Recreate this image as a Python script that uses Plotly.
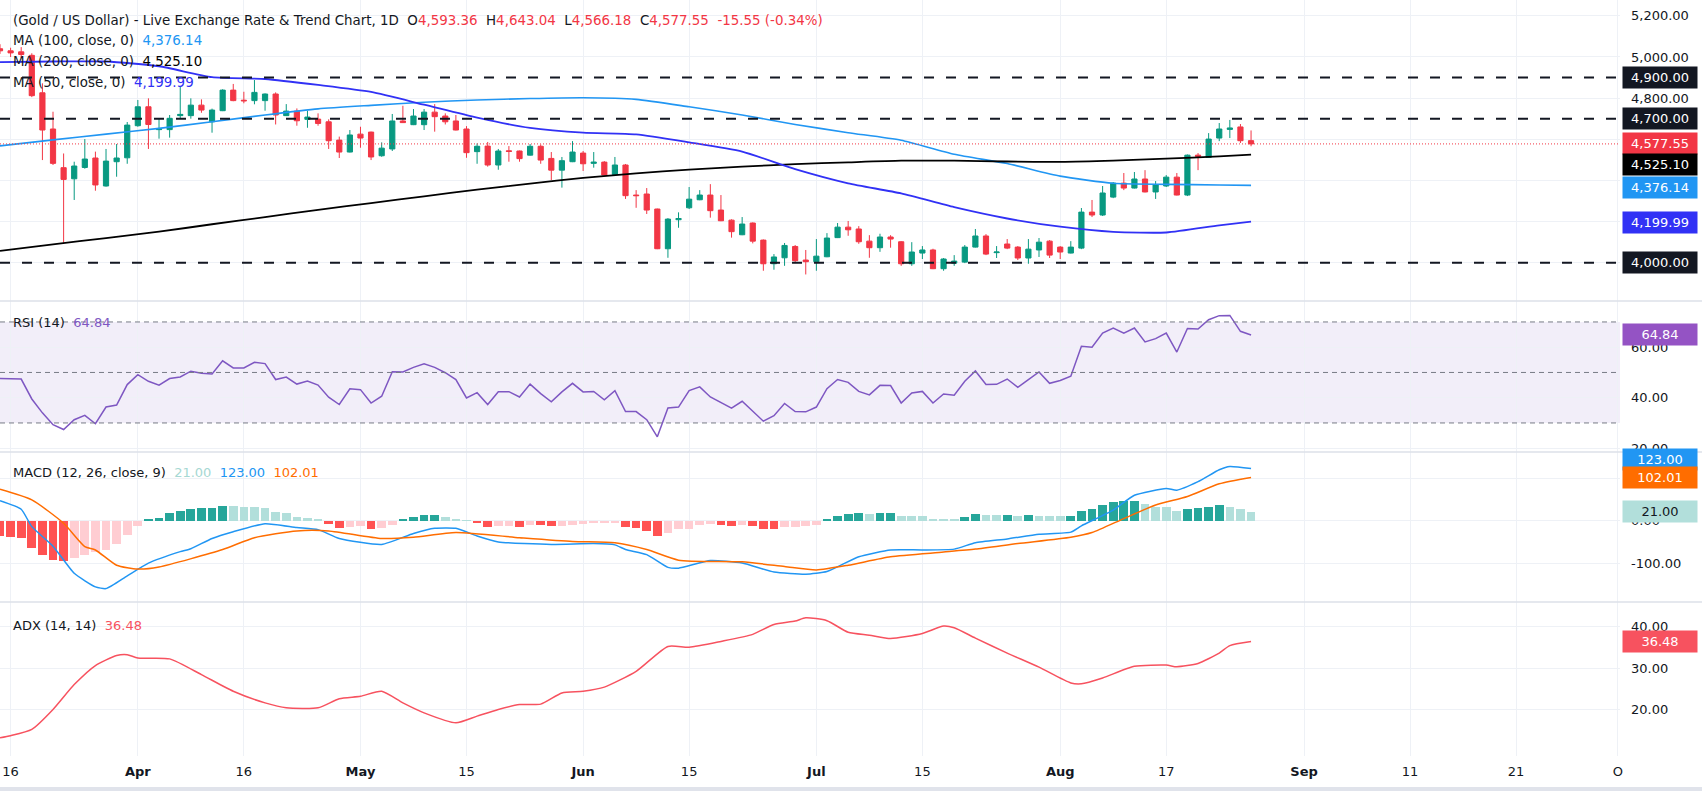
import plotly.graph_objects as go
from plotly.subplots import make_subplots

# daily bars: index 0 = 13 Mar, 118 = 27 Aug (weekdays only)
opens = [5040, 5030, 5025, 5008, 4826, 4650, 4462, 4408, 4463, 4509,
         4373, 4491, 4510, 4666, 4758, 4647, 4647, 4715, 4715, 4766,
         4685, 4739, 4839, 4790, 4788, 4788, 4820, 4715, 4737, 4697,
         4698, 4685, 4596, 4538, 4625, 4635, 4520, 4553, 4689, 4671,
         4671, 4732, 4713, 4689, 4650, 4540, 4567, 4475, 4544, 4543,
         4523, 4566, 4507, 4450, 4491, 4533, 4483, 4489, 4429, 4475,
         4329, 4334, 4261, 4068, 4209, 4267, 4306, 4329, 4256, 4207,
         4136, 4193, 4110, 3995, 4024, 4079, 4013, 4005, 4029, 4122,
         4173, 4164, 4105, 4073, 4125, 4102, 3995, 4047, 4062, 3971,
         3998, 4003, 4076, 4130, 4049, 4091, 4076, 4023, 4062, 4105,
         4076, 4047, 4071, 4246, 4232, 4319, 4387, 4363, 4407, 4344,
         4373, 4416, 4329, 4523, 4512, 4606, 4648, 4660, 4593.36]
highs = [5062, 5045, 5048, 5018, 4872, 4734, 4531, 4491, 4601, 4540,
         4553, 4577, 4684, 4791, 4799, 4702, 4718, 4856, 4799, 4794,
         4749, 4843, 4869, 4831, 4888, 4823, 4828, 4771, 4750, 4739,
         4726, 4697, 4613, 4645, 4661, 4637, 4585, 4723, 4763, 4747,
         4747, 4771, 4726, 4718, 4664, 4580, 4587, 4553, 4567, 4545,
         4577, 4575, 4538, 4514, 4591, 4543, 4538, 4494, 4514, 4480,
         4353, 4363, 4263, 4217, 4245, 4368, 4353, 4382, 4329, 4211,
         4222, 4196, 4113, 4042, 4096, 4086, 4062, 4115, 4144, 4193,
         4203, 4178, 4134, 4141, 4134, 4105, 4100, 4081, 4068, 4023,
         4037, 4086, 4164, 4139, 4081, 4115, 4081, 4115, 4120, 4110,
         4081, 4105, 4266, 4305, 4373, 4392, 4436, 4441, 4450, 4397,
         4426, 4436, 4526, 4533, 4630, 4679, 4694, 4674, 4643.04]
lows = [5015, 5000, 4995, 4805, 4499, 4475, 4097, 4305, 4457, 4350,
        4370, 4418, 4481, 4661, 4553, 4603, 4608, 4700, 4700, 4729,
        4632, 4737, 4785, 4775, 4770, 4739, 4672, 4713, 4666, 4656,
        4666, 4553, 4509, 4536, 4559, 4499, 4515, 4543, 4679, 4669,
        4645, 4637, 4672, 4643, 4510, 4481, 4467, 4452, 4491, 4491,
        4521, 4481, 4402, 4365, 4489, 4446, 4462, 4424, 4423, 4310,
        4267, 4237, 4066, 4024, 4170, 4261, 4304, 4219, 4202, 4122,
        4134, 4094, 3961, 3966, 3985, 3998, 3943, 3961, 4027, 4120,
        4131, 4092, 4024, 4053, 4073, 3985, 3985, 4018, 3969, 3961,
        3985, 3998, 4074, 4037, 4023, 4066, 4013, 3995, 4028, 4023,
        4018, 4045, 4066, 4222, 4227, 4314, 4353, 4361, 4342, 4310,
        4368, 4327, 4324, 4450, 4510, 4591, 4606, 4582, 4566.18]
closes = [5030, 5020, 5012, 4812, 4645, 4483, 4405, 4470, 4504, 4378,
          4494, 4509, 4669, 4758, 4672, 4650, 4702, 4721, 4766, 4742,
          4742, 4839, 4788, 4787, 4828, 4820, 4718, 4737, 4690, 4708,
          4677, 4593, 4538, 4621, 4606, 4514, 4557, 4689, 4681, 4713,
          4732, 4710, 4685, 4645, 4535, 4566, 4475, 4543, 4541, 4506,
          4566, 4499, 4450, 4496, 4538, 4481, 4489, 4426, 4475, 4326,
          4326, 4256, 4068, 4212, 4215, 4309, 4329, 4253, 4204, 4151,
          4188, 4105, 3995, 4028, 4084, 4010, 4005, 4032, 4120, 4173,
          4160, 4102, 4073, 4125, 4115, 3995, 4052, 4062, 3971, 4018,
          4008, 4076, 4130, 4042, 4052, 4071, 4023, 4066, 4100, 4037,
          4052, 4076, 4246, 4232, 4339, 4387, 4363, 4407, 4344, 4378,
          4416, 4329, 4523, 4517, 4601, 4650, 4655, 4593.10, 4577.55]

# moving averages, read every 5 bars
ma_idx = [0, 5, 10, 15, 20, 25, 30, 35, 40, 45, 50, 55, 60, 65, 70, 75,
          80, 85, 90, 95, 100, 105, 110, 115, 118]
ma50 = [4975, 4978, 4978, 4955, 4902, 4893, 4864, 4830, 4768, 4705, 4655,
        4632, 4624, 4585, 4540, 4455, 4386, 4337, 4270, 4215, 4175, 4150,
        4147, 4182, 4199.99]
ma100 = [4568, 4597, 4625, 4653, 4685, 4718, 4748, 4765, 4780, 4791, 4798,
         4802, 4794, 4758, 4718, 4672, 4632, 4595, 4527, 4482, 4421, 4386,
         4381, 4378, 4376.14]
ma200 = [4058, 4089, 4120, 4151, 4187, 4222, 4257, 4290, 4323, 4355, 4385,
         4412, 4434, 4453, 4467, 4479, 4488, 4496, 4496, 4492, 4490, 4496,
         4506, 4517, 4525.10]
levels = [4900, 4700, 4000]

rsi = [47.6, 47.5, 47.4, 39.5, 34.0, 29.3, 27.4, 31.3, 33.0, 29.7,
       36.3, 37.1, 45.2, 49.1, 46.5, 45.0, 47.6, 48.2, 50.5, 49.7,
       49.4, 54.6, 51.8, 51.8, 54.0, 53.5, 47.2, 48.2, 45.4, 46.6,
       45.0, 40.2, 37.3, 43.5, 43.2, 37.9, 40.6, 50.3, 50.2, 52.0,
       53.4, 52.0, 49.9, 47.2, 39.9, 42.0, 37.3, 42.4, 42.4, 40.3,
       45.4, 41.6, 38.4, 42.3, 45.7, 42.3, 42.5, 39.2, 42.8, 34.5,
       34.5, 31.3, 24.5, 35.9, 36.3, 42.8, 44.3, 40.3, 38.2, 35.9,
       38.6, 34.6, 30.7, 32.9, 37.7, 34.5, 34.4, 36.3, 43.6, 47.2,
       46.1, 42.5, 41.1, 44.9, 44.8, 37.9, 41.9, 42.5, 37.9, 41.5,
       41.0, 46.5, 50.6, 45.2, 45.3, 47.4, 44.1, 47.2, 50.2, 45.7,
       46.8, 48.5, 60.4, 60.0, 65.6, 67.6, 65.6, 67.6, 62.1, 63.4,
       65.6, 58.1, 67.4, 67.2, 70.9, 72.5, 72.6, 66.3, 64.84]

macd_hist = [-36, -38, -40, -65, -80, -92, -96, -88, -80, -74,
             -68, -54, -34, -13, 4, 7, 17, 22, 28, 30,
             31, 35, 34, 33, 32, 30, 21, 17, 9, 6,
             2, -7, -17, -14, -13, -20, -17, -10, 3, 9.5,
             13.4, 14, 9.5, 3, 1, -6, -14, -12.6, -12, -14,
             -9.5, -10.5, -12, -11.5, -9, -7.5, -6, -5.5, -4.7, -16,
             -17, -24, -36, -30, -20, -19, -10, -8.7, -10, -12.6,
             -9.5, -12.6, -19, -19.5, -16, -14, -13.5, -9.5, 3, 11,
             16, 17.3, 15, 17.3, 17.5, 11, 10.8, 10.5, 4.7, 4.6,
             4.5, 8.7, 15.7, 13.4, 13.3, 13.5, 11, 13.4, 11, 10.9,
             10.8, 11, 23.6, 27.6, 37, 45, 45.5, 46, 39.4, 33,
             32.5, 23.6, 28.3, 30, 32.3, 36.2, 33, 28.3, 21.00]
macd_idx = [0, 2, 3, 5, 7, 9, 10, 12, 14, 17, 18, 20, 22, 25, 28, 30, 32, 36,
            39, 41, 43, 45, 47, 52, 56, 58, 59, 61, 63, 64, 67, 70, 73, 76,
            78, 81, 84, 87, 90, 92, 95, 98, 101, 102, 105, 107, 110, 111,
            113, 115, 116, 118]
macd_line = [47, 27, -14, -60, -124, -156, -160, -130, -100, -73, -66, -42,
             -26, -7, -16, -21, -42, -56, -30, -18, -18, -36, -50, -56, -54,
             -57, -68, -80, -110, -112, -94, -100, -121, -126, -120, -85, -69,
             -69, -67, -52, -43, -32, -27, -12, 25, 60, 76, 72, 92, 120, 128,
             123.00]
signal_idx = [0, 3, 6, 8, 9, 11, 13, 15, 21, 24, 28, 31, 36, 39, 43, 49, 54,
              58, 61, 64, 70, 74, 77, 80, 84, 89, 92, 96, 101, 103, 106, 109,
              112, 115, 118]
signal_line = [74, 49, -6, -61, -69, -105, -114, -109, -68, -40, -24, -24,
               -42, -39, -28, -40, -49, -52, -68, -93, -97, -108, -116, -105,
               -85, -74, -67, -54, -39, -28, 5, 37, 57, 87, 102.01]

adx_idx = [0, 1, 3, 5, 7, 9, 11, 12, 13, 16, 19, 22, 25, 27, 30, 32, 34, 36,
           38, 40, 43, 45, 47, 49, 51, 53, 55, 57, 60, 63, 65, 68, 71, 73, 75,
           76, 78, 80, 82, 84, 87, 89, 90, 92, 95, 98, 101, 102, 104, 107,
           110, 111, 113, 115, 116, 118]
adx = [13.3, 13.8, 15.3, 20.1, 26.1, 30.7, 33.1, 33.3, 32.5, 32.3, 28.5,
       24.5, 21.7, 20.5, 20.5, 22.7, 23.3, 24.5, 21.7, 19.3, 16.9, 18.5,
       20.1, 21.3, 21.4, 24.1, 24.5, 25.5, 29.3, 35.3, 35.1, 36.5, 38.2,
       40.6, 41.4, 42.2, 41.5, 38.7, 38.0, 37.2, 38.4, 40.2, 39.8, 37.3,
       33.7, 30.3, 26.5, 26.3, 27.7, 30.5, 30.8, 30.4, 31.2, 33.7, 35.5,
       36.48]

tick_pos = [1, 13, 23, 34, 44, 55, 65, 77, 87, 100, 110, 123, 133, 143, 152.6]
tick_text = ["16", "<b>Apr</b>", "16", "<b>May</b>", "15", "<b>Jun</b>", "15",
             "<b>Jul</b>", "15", "<b>Aug</b>", "17", "<b>Sep</b>", "11", "21", "O"]
# price-scale labels; the ones hidden behind value boxes stay blank
price_ticks = [4000, 4200, 4400, 4600, 4800, 5000, 5200]
price_labels = ["", "", "", "", "4,800.00", "5,000.00", "5,200.00"]
macd_ticks = [-100, 0, 100]
macd_labels = ["-100.00", "0.00", ""]

FONT = "DejaVu Sans, Verdana, sans-serif"
TXT = "#131722"
UP = "#089981"
DOWN = "#F23645"
C50 = "#3131F5"
C100 = "#2196F3"
C200 = "#000000"
PURPLE = "#7E57C2"
GRID = "#EEF1F6"
PLOT_H = 756  # plot area height in px


def dom(top, bottom):
    return [1 - bottom / PLOT_H, 1 - top / PLOT_H]


bars = list(range(len(closes)))

fig = make_subplots(rows=4, cols=1, shared_xaxes=True, vertical_spacing=0)

# price pane
fig.add_trace(go.Candlestick(
    x=bars, open=opens, high=highs, low=lows, close=closes,
    increasing=dict(line=dict(color=UP, width=1), fillcolor=UP),
    decreasing=dict(line=dict(color=DOWN, width=1), fillcolor=DOWN),
    whiskerwidth=0, showlegend=False, hoverinfo="skip"), row=1, col=1)
for vals, clr, w in [(ma100, C100, 1.6), (ma200, C200, 1.8), (ma50, C50, 1.8)]:
    fig.add_trace(go.Scatter(x=ma_idx, y=vals, mode="lines", line=dict(color=clr, width=w, shape="spline", smoothing=0.6),
                             showlegend=False, hoverinfo="skip"), row=1, col=1)
for lv in levels:
    fig.add_hline(y=lv, line=dict(color=TXT, width=2, dash="10px,12px"), row=1, col=1)
fig.add_hline(y=closes[-1], line=dict(color=DOWN, width=1, dash="1px,2px"), row=1, col=1)

# RSI pane
fig.add_trace(go.Scatter(x=bars, y=rsi, mode="lines", line=dict(color=PURPLE, width=1.5),
                         showlegend=False, hoverinfo="skip"), row=2, col=1)
fig.add_hrect(y0=30, y1=70, fillcolor="rgba(126,87,194,0.1)", line_width=0, layer="below", row=2, col=1)
for lv in [70, 50, 30]:
    fig.add_hline(y=lv, line=dict(color="#787B86", width=1, dash="5px,4px"), row=2, col=1)

# MACD pane
hist_colors = []
for i, v in enumerate(macd_hist):
    prev = macd_hist[i - 1] if i else 0
    if v >= 0:
        hist_colors.append("#26A69A" if v > prev else "#B2DFDB")
    else:
        hist_colors.append("#FF5252" if v < prev else "#FFCDD2")
fig.add_trace(go.Bar(x=bars, y=macd_hist, marker=dict(color=hist_colors, line_width=0), width=0.82,
                     showlegend=False, hoverinfo="skip"), row=3, col=1)
fig.add_trace(go.Scatter(x=macd_idx, y=macd_line, mode="lines", line=dict(color="#2196F3", width=1.5, shape="spline", smoothing=0.5),
                         showlegend=False, hoverinfo="skip"), row=3, col=1)
fig.add_trace(go.Scatter(x=signal_idx, y=signal_line, mode="lines", line=dict(color="#FF6D00", width=1.5, shape="spline", smoothing=0.6),
                         showlegend=False, hoverinfo="skip"), row=3, col=1)

# ADX pane
fig.add_trace(go.Scatter(x=adx_idx, y=adx, mode="lines", line=dict(color="#F7525F", width=1.5, shape="spline", smoothing=0.6),
                         showlegend=False, hoverinfo="skip"), row=4, col=1)

fig.update_xaxes(range=[0.0, 152.8], tickvals=tick_pos, ticktext=tick_text, showgrid=True, gridcolor=GRID,
                 zeroline=False, showline=False, ticks="", rangeslider_visible=False,
                 tickfont=dict(size=13, color=TXT, family=FONT))
fig.update_xaxes(showticklabels=True, ticklabelstandoff=6, row=4, col=1)
fig.update_yaxes(side="right", showgrid=True, gridcolor=GRID, zeroline=False, showline=False, ticks="",
                 ticklabelstandoff=10, tickfont=dict(size=13, color=TXT, family=FONT))

fig.update_layout(
    width=1702, height=791,
    margin=dict(l=0, r=82, t=0, b=35),
    paper_bgcolor="white", plot_bgcolor="white",
    font=dict(family=FONT, color=TXT, size=13),
    hovermode=False, bargap=0,
    yaxis=dict(domain=dom(0, 301), range=[3814, 5277], tickvals=price_ticks, ticktext=price_labels),
    yaxis2=dict(domain=dom(301, 452), range=[18.5, 78.3], tickvals=[20, 40, 60], tickformat=".2f"),
    yaxis3=dict(domain=dom(452, 602), range=[-191.7, 162], tickvals=macd_ticks, ticktext=macd_labels),
    yaxis4=dict(domain=dom(602, 756), range=[8.9, 46], tickvals=[20, 30, 40], tickformat=".2f"),
)

# pane separators and frame
for py in [301, 452, 602]:
    fig.add_shape(type="line", xref="paper", yref="paper", x0=0, x1=1702 / 1620, y0=1 - py / PLOT_H, y1=1 - py / PLOT_H,
                  line=dict(color="#DDE1E8", width=1.5))
fig.add_shape(type="rect", xref="paper", yref="paper", x0=0, x1=1702 / 1620, y0=1, y1=1 + 2 / PLOT_H,
              fillcolor="#E0E3EB", line_width=0)
fig.add_shape(type="rect", xref="paper", yref="paper", x0=0, x1=1702 / 1620, y0=-35 / PLOT_H, y1=-31 / PLOT_H,
              fillcolor="#E0E3EB", line_width=0)


def scale_box(text, y, yref, bg, fg="white", shift=0):
    fig.add_annotation(x=1, xref="paper", xanchor="left", xshift=2, y=y, yref=yref, yshift=shift,
                       text=text, showarrow=False, bgcolor=bg, borderpad=2, width=70, height=17,
                       font=dict(color=fg, size=13, family=FONT))


for lv in levels:
    scale_box(f"{lv:,.2f}", lv, "y", TXT)
scale_box(f"{closes[-1]:,.2f}", closes[-1], "y", DOWN)
scale_box(f"{ma200[-1]:,.2f}", ma200[-1], "y", C200, shift=-10)
scale_box(f"{ma100[-1]:,.2f}", ma100[-1], "y", C100, shift=-2)
scale_box(f"{ma50[-1]:,.2f}", ma50[-1], "y", C50, shift=-1)
scale_box(f"{rsi[-1]:.2f}", rsi[-1], "y2", "#9453C4")
scale_box(f"{macd_line[-1]:.2f}", macd_line[-1], "y3", "#2196F3", shift=9)
scale_box(f"{signal_line[-1]:.2f}", signal_line[-1], "y3", "#FF6D00")
scale_box(f"{macd_hist[-1]:.2f}", macd_hist[-1], "y3", "#B2DFDB", fg=TXT)
scale_box(f"{adx[-1]:.2f}", adx[-1], "y4", "#F7525F")


def col(t, c):
    return f"<span style='color:{c}'>{t}</span>"


sp = "\u00a0\u00a0"
chg = closes[-1] - closes[-2]
pct = chg / closes[-2] * 100
title = ("(Gold / US Dollar) - Live Exchange Rate &amp; Trend Chart, 1D" + sp
         + "O" + col(f"{opens[-1]:,.2f}", DOWN) + sp + "H" + col(f"{highs[-1]:,.2f}", DOWN) + sp
         + "L" + col(f"{lows[-1]:,.2f}", DOWN) + sp + "C" + col(f"{closes[-1]:,.2f}", DOWN) + sp
         + col(f"{chg:,.2f} ({pct:.2f}%)", DOWN))
legends = [
    (title, 20, 13.4),
    ("MA (100, close, 0)" + sp + col(f"{ma100[-1]:,.2f}", C100), 41, 13.4),
    ("MA (200, close, 0)" + sp + col(f"{ma200[-1]:,.2f}", C200), 62, 13.4),
    ("MA (50, close, 0)" + sp + col(f"{ma50[-1]:,.2f}", C50), 83, 13.4),
    ("RSI (14)" + sp + col(f"{rsi[-1]:.2f}", PURPLE), 322, 13),
    ("MACD (12, 26, close, 9)" + sp + col(f"{macd_hist[-1]:.2f}", "#A6D8D3") + sp
     + col(f"{macd_line[-1]:.2f}", "#2196F3") + sp + col(f"{signal_line[-1]:.2f}", "#FF6D00"), 472, 13),
    ("ADX (14, 14)" + sp + col(f"{adx[-1]:.2f}", "#F7525F"), 625, 13),
]
for txt, py, fs in legends:
    fig.add_annotation(x=11 / 1620, xref="paper", xanchor="left", y=1 - py / PLOT_H, yref="paper", yanchor="middle",
                       text=txt, showarrow=False, font=dict(size=fs, color=TXT, family=FONT))

fig.write_html("out.html", config={"displayModeBar": False}, post_script="document.body.style.margin='0px';")
